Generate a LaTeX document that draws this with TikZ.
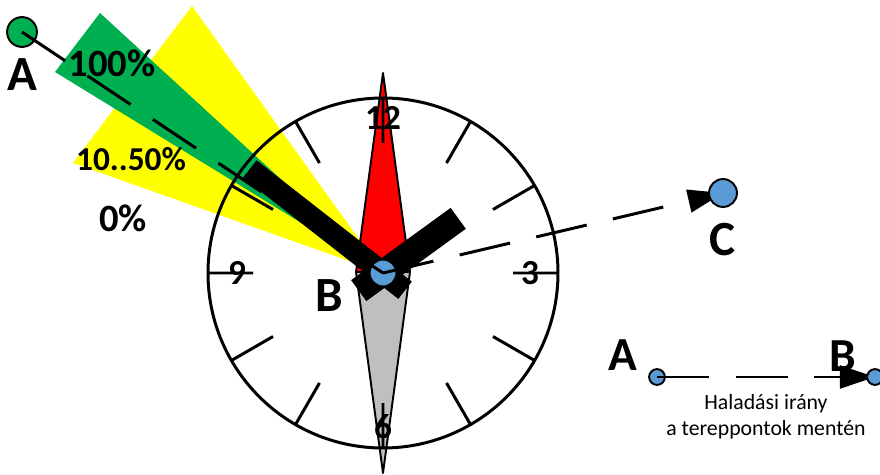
\documentclass[tikz,border=0pt]{standalone}
\usepackage{fontspec}
\setmainfont{Carlito}
\usetikzlibrary{arrows.meta, calc}
\definecolor{wide}{HTML}{FFFF00}
\definecolor{narrow}{HTML}{00B050}
\definecolor{north}{HTML}{FF0000}
\definecolor{south}{HTML}{BFBFBF}
\definecolor{pin}{HTML}{5B9BD5}
\pgfdeclarelayer{front}
\pgfsetlayers{main,front}

\begin{document}
\begin{tikzpicture}[x=0.02cm, y=0.02cm, >={Triangle[length=20pt, width=13pt]},
    route/.style={line width=1.7pt, dash pattern=on 29.5pt off 15.3pt},
    hand/.style={line width=12.5pt},
    hourtick/.style={line width=1.7pt},
    pinpt/.style={circle, draw, line width=1.1pt, fill=pin, inner sep=0pt, minimum size=15.3pt},
    big/.style={font=\bfseries\fontsize{28}{30}\selectfont, inner sep=0pt},
    pct/.style={font=\bfseries\fontsize{22}{24}\selectfont, inner sep=0pt},
    hour/.style={font=\bfseries\fontsize{20}{22}\selectfont, inner sep=0pt}]

  \useasboundingbox (0,0) rectangle (880,474);
  \coordinate (o) at (383,201);

  % The sectors of the sight, wide (yellow) and narrow (green).
  \fill[wide] (o) -- (192,468) -- (73,311) -- cycle;
  \fill[narrow] (o) -- (100,461) -- (55,402) -- cycle;

  % Compass needle.
  \filldraw[fill=south, line width=1.1pt, line join=round] (356,202) -- (383,1) -- (410,202) -- cycle;
  \filldraw[fill=north, line width=1.1pt, line join=round] (356,202) -- (383,401) -- (410,202) -- cycle;

  % Clock face with its hour marks.
  \draw[line width=1.7pt] (o) circle[radius=175];
  \draw[hourtick] ($(o)+(60:127)$) -- ($(o)+(60:175)$)
                  ($(o)+(30:127)$) -- ($(o)+(30:175)$)
                  ($(o)+(-30:127)$) -- ($(o)+(-30:175)$)
                  ($(o)+(-60:127)$) -- ($(o)+(-60:175)$)
                  ($(o)+(-120:127)$) -- ($(o)+(-120:175)$)
                  ($(o)+(-150:127)$) -- ($(o)+(-150:175)$)
                  ($(o)+(150:127)$) -- ($(o)+(150:175)$)
                  ($(o)+(120:127)$) -- ($(o)+(120:175)$)
                  ($(o)+(90:130)$) -- ($(o)+(90:175)$)
                  ($(o)+(0:130)$) -- ($(o)+(0:175)$)
                  ($(o)+(-90:130)$) -- ($(o)+(-90:175)$)
                  ($(o)+(180:130)$) -- ($(o)+(180:175)$);
  \node[hour] (h12) at (383,356) {12};
  \node[hour] (h3) at (530,201) {3};
  \node[hour] (h6) at (383,47) {6};
  \node[hour] (h9) at (237,201) {9};

  % Hands: long one towards A, short one.
  \draw[hand] ($(o)+(142:-28)$) -- ($(o)+(142:169)$);
  \draw[hand, line width=14.7pt] ($(o)+(36:-30)$) -- ($(o)+(36:93)$);

  % Points and the route between them.
  \node[pinpt, fill=narrow, minimum size=17pt] (ptA) at (22,442) {};
  \node[pinpt] (ptB) at (o) {};
  \begin{pgfonlayer}{front}
    \node[pinpt, minimum size=15.9pt] (ptC) at (723,281) {};
    \node[pinpt, minimum size=9pt] (legB) at (875,97) {};
  \end{pgfonlayer}
  \node[pinpt, minimum size=9pt] (legA) at (657,97) {};

  \draw[route] (ptA.center) -- (ptB.center);
  \draw[route, ->] (ptB.center) -- (ptC.center);
  \draw[route, ->] (legA.center) -- (legB.center);

  \node[big] (lblA) at (22,399) {A};
  \node[big] (lblB) at (329,178) {B};
  \node[big] (lblC) at (723,234) {C};
  \node[pct] (p100) at (112,411) {100\%};
  \node[pct, font=\bfseries\fontsize{19}{21}\selectfont] (p50) at (131,315) {10..50\%};
  \node[pct] (p0) at (123,256) {0\%};

  % Legend.
  \node[big, font=\bfseries\fontsize{27}{29}\selectfont] (legAl) at (623,119) {A};
  \node[big, font=\bfseries\fontsize{27}{29}\selectfont] (legBl) at (843,118) {B};
  \node[font=\fontsize{12.4}{14.7}\selectfont, align=center, inner sep=0pt] (legtxt) at (766,57)
    {Haladási irány\\a tereppontok mentén};
\end{tikzpicture}
\end{document}
